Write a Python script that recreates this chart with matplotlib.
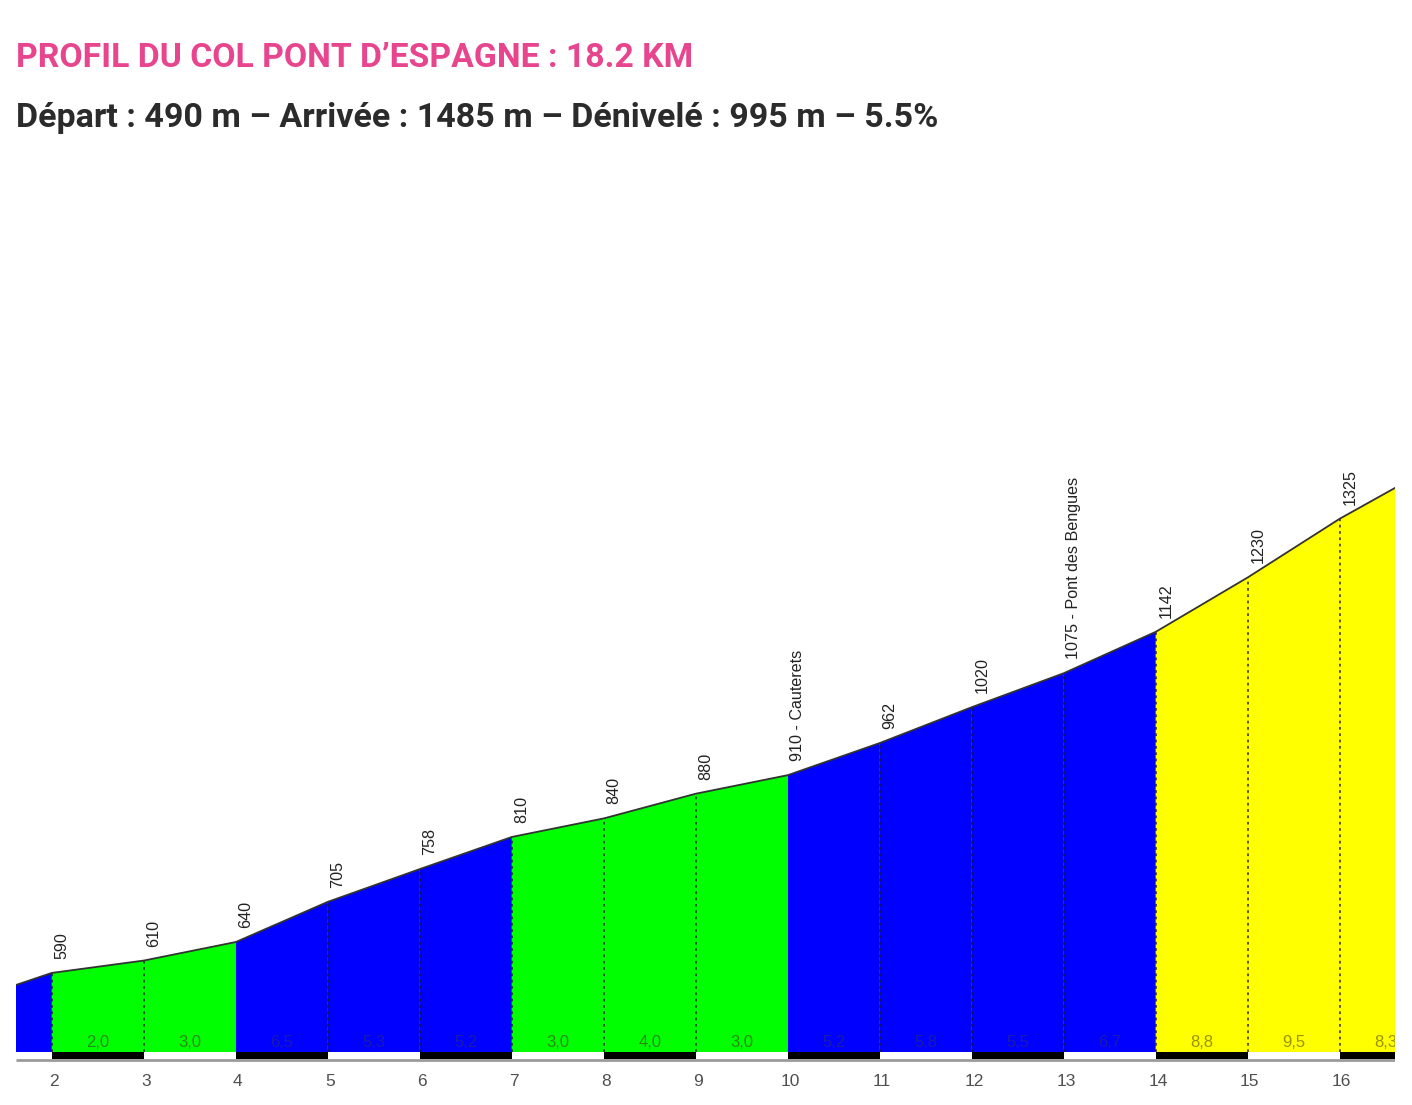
import matplotlib
matplotlib.use("Agg")
import matplotlib.pyplot as plt
from matplotlib.patches import Rectangle, Polygon

# ---- data ----
km = [1, 2, 3, 4, 5, 6, 7, 8, 9, 10, 11, 12, 13, 14, 15, 16, 17]
elev = [540, 590, 610, 640, 705, 758, 810, 840, 880, 910, 962, 1020, 1075, 1142, 1230, 1325, 1408]
label_names = {10: "Cauterets", 13: "Pont des Bengues"}
tick_km = [2, 3, 4, 5, 6, 7, 8, 9, 10, 11, 12, 13, 14, 15, 16]
title = "PROFIL DU COL PONT D\u2019ESPAGNE : 18.2 KM"
subtitle = "D\u00e9part : 490 m \u2013 Arriv\u00e9e : 1485 m \u2013 D\u00e9nivel\u00e9 : 995 m \u2013 5.5%"

W, H = 1412, 1105
fig = plt.figure(figsize=(W / 100, H / 100), dpi=100)
fig.patch.set_facecolor("white")

fig.text(16 / W, 1 - 67 / H, title, fontfamily="Roboto", fontweight="bold",
         fontsize=24.3, color="#E8458F", va="baseline", ha="left")
fig.text(16 / W, 1 - 127 / H, subtitle, fontfamily="Roboto", fontweight="bold",
         fontsize=24.5, color="#2b2b2b", va="baseline", ha="left")

base = 462
ylo, yhi = 440, 1450
ax = fig.add_axes([16 / W, 0.03566, (1395 - 16) / W, 0.6005 - 0.03566])
ax.set_xlim(1.61, 16.6)
ax.set_ylim(ylo, yhi)
ax.axis("off")

lab_font = ["Liberation Sans", "DejaVu Sans"]

def seg_colors(g):
    if g < 5:
        return "#00FF00", "#2a8a10"
    if g < 8:
        return "#0000FF", "#1a1ab0"
    return "#FFFF00", "#9a9400"

for i in range(len(km) - 1):
    x0, x1 = km[i], km[i + 1]
    y0, y1 = elev[i], elev[i + 1]
    g = (y1 - y0) / ((x1 - x0) * 10)
    fc, tc = seg_colors(g)
    ax.add_patch(Polygon([(x0, base), (x0, y0), (x1, y1), (x1, base)],
                         closed=True, facecolor=fc, edgecolor="none", zorder=1))
    ax.annotate(f"{g:.1f}".replace(".", ","), xy=((x0 + x1) / 2, base),
                xytext=(0, 10), textcoords="offset pixels", ha="center", va="center",
                fontsize=12, color=tc, fontfamily=lab_font, zorder=4,
                annotation_clip=True, clip_on=True)
    # distance bar
    if x0 % 2 == 0:
        ax.add_patch(Rectangle((x0, 450.0), x1 - x0, base - 450.0,
                               facecolor="black", edgecolor="none", zorder=3))

# dotted km lines
for k, e in zip(km, elev):
    if 2 <= k <= 16 and k not in (4, 10):
        ax.plot([k, k], [base, e], color="#1a1a1a", lw=1.3,
                linestyle=(0, (1.5, 2.0)), zorder=2, alpha=0.8)

# profile line
ax.plot(km, elev, color="#333333", lw=1.3, zorder=3)

# grey underline of the distance bar
ax.plot([1.61, 16.6], [449.0, 449.0], color="#9a9a9a", lw=2, zorder=2,
        solid_capstyle="butt")

# elevation labels
for k, e in zip(km, elev):
    if 2 <= k <= 16:
        txt = str(e) + (" - " + label_names[k] if k in label_names else "")
        ax.annotate(txt, xy=(k, e), xytext=(10, 14), textcoords="offset pixels",
                    rotation=90, ha="center", va="bottom", fontsize=11.6,
                    color="#222222", fontfamily=lab_font, zorder=5)

# km tick labels
for k in tick_km:
    ax.annotate(str(k), xy=(k, ylo), xytext=(2, -16), textcoords="offset pixels",
                ha="center", va="center", fontsize=12.5, color="#505050",
                fontfamily=lab_font, annotation_clip=False)

fig.savefig("out.png", dpi=100, facecolor="white")
